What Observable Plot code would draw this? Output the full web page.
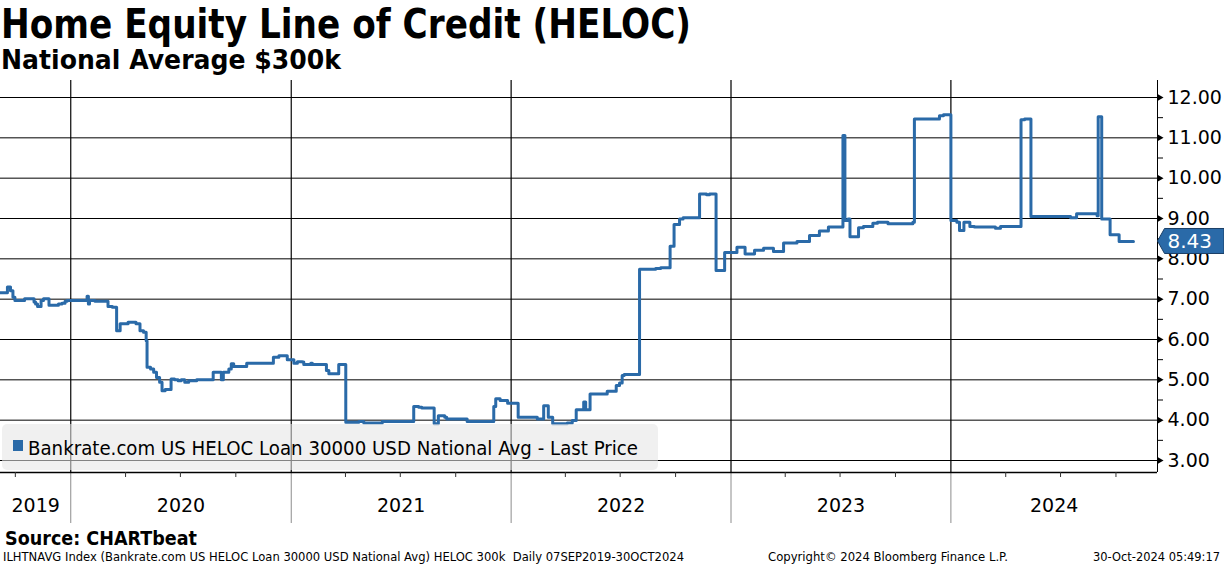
<!DOCTYPE html>
<html><head><meta charset="utf-8">
<script src="https://cdn.jsdelivr.net/npm/d3@7"></script>
<script src="https://cdn.jsdelivr.net/npm/@observablehq/plot@0.6"></script>
<style>
body{margin:0;background:#fff;}
#wrap{position:relative;width:1224px;height:566px;overflow:hidden;font-family:"DejaVu Sans",sans-serif;color:#000;background:#fff;}
.t{position:absolute;white-space:nowrap;line-height:1;transform-origin:0 50%;}
#chart{position:absolute;left:0;top:78px;}
#legend{position:absolute;left:2px;top:424px;width:656px;height:46px;background:rgba(228,228,228,0.57);border-radius:5px;}
#legsq{position:absolute;left:11px;top:16px;width:10px;height:11px;}
</style></head><body>
<div id="wrap">
  <div id="title" class="t" style="left:1px;top:4px;font-size:40px;font-weight:bold"></div>
  <div id="subtitle" class="t" style="left:1px;top:46px;font-size:27px;font-weight:bold"></div>
  <div id="chart"></div>
  <div id="legend"><div id="legsq"></div><div id="legtext" class="t" style="left:26px;top:14px;font-size:20px"></div></div>
  <div id="source" class="t" style="left:5px;top:528px;font-size:20px;font-weight:bold"></div>
  <div id="foot1" class="t" style="left:3px;top:550px;font-size:13px"></div>
  <div id="foot2" class="t" style="left:768px;top:550px;font-size:13px"></div>
  <div id="foot3" class="t" style="left:1093px;top:550px;font-size:13px"></div>
</div>
<script>
// ---- text ----
const titleText = "Home Equity Line of Credit (HELOC)";
const subtitleText = "National Average $300k";
const legendText = "Bankrate.com US HELOC Loan 30000 USD National Avg - Last Price";
const sourceText = "Source: CHARTbeat";
const footLeft = "ILHTNAVG Index (Bankrate.com US HELOC Loan 30000 USD National Avg) HELOC 300k\u00a0\u00a0Daily 07SEP2019-30OCT2024";
const footMid = "Copyright\u00a9 2024 Bloomberg Finance L.P.";
const footRight = "30-Oct-2024 05:49:17";

// ---- data (decimal years, rate %) ----
const dates = [2019.681,2019.712,2019.726,2019.737,2019.746,2019.790,2019.833,2019.840,2019.849,2019.865,
2019.876,2019.901,2019.944,2019.960,2019.974,2019.983,2020.074,2020.080,2020.085,2020.110,
2020.169,2020.189,2020.208,2020.224,2020.260,2020.296,2020.314,2020.330,2020.342,2020.346,
2020.362,2020.376,2020.389,2020.403,2020.414,2020.428,2020.455,2020.471,2020.487,2020.501,
2020.517,2020.535,2020.571,2020.646,2020.683,2020.692,2020.717,2020.728,2020.739,2020.798,
2020.919,2020.944,2020.982,2021.012,2021.028,2021.051,2021.057,2021.089,2021.096,2021.160,
2021.171,2021.216,2021.248,2021.307,2021.330,2021.414,2021.557,2021.580,2021.594,2021.650,
2021.669,2021.698,2021.707,2021.800,2021.921,2021.930,2021.950,2021.984,2022.032,2022.119,
2022.148,2022.169,2022.189,2022.255,2022.278,2022.296,2022.330,2022.339,2022.359,2022.437,
2022.478,2022.493,2022.505,2022.514,2022.584,2022.657,2022.680,2022.723,2022.741,2022.766,
2022.782,2022.857,2022.889,2022.902,2022.932,2022.971,2023.027,2023.064,2023.107,2023.148,
2023.193,2023.239,2023.300,2023.357,2023.402,2023.443,2023.509,2023.518,2023.532,2023.541,
2023.580,2023.602,2023.645,2023.666,2023.714,2023.827,2023.834,2023.948,2023.966,2024.000,
2024.027,2024.039,2024.059,2024.086,2024.107,2024.202,2024.225,2024.318,2024.334,2024.363,
2024.543,2024.570,2024.663,2024.668,2024.684,2024.722,2024.763,2024.828];
const rates = [7.16,7.30,7.21,7.05,6.97,7.01,6.93,6.88,6.82,6.97,
7.01,6.85,6.88,6.90,6.95,6.97,7.07,6.88,6.97,6.95,
6.82,6.80,6.22,6.39,6.43,6.39,6.22,6.18,5.97,5.31,
5.27,5.19,5.06,4.94,4.73,4.76,5.02,5.00,4.98,5.00,
4.94,4.98,5.00,5.19,5.00,5.19,5.27,5.40,5.33,5.41,
5.56,5.60,5.50,5.41,5.45,5.44,5.38,5.41,5.38,5.23,
5.15,5.38,3.95,3.97,3.93,3.97,4.34,4.32,4.30,3.91,
4.11,4.07,4.03,3.97,4.34,4.53,4.49,4.42,4.07,4.03,
4.36,4.07,3.91,3.93,3.99,4.26,4.45,4.26,4.65,4.72,
4.86,4.92,5.11,5.13,7.74,7.76,7.78,8.31,8.85,8.99,
9.02,9.61,9.59,9.61,7.71,8.16,8.29,8.12,8.21,8.26,
8.18,8.39,8.43,8.58,8.69,8.79,11.06,8.95,8.99,8.55,
8.77,8.80,8.88,8.91,8.87,8.91,11.47,11.55,11.57,8.95,
8.91,8.70,8.91,8.80,8.79,8.76,8.80,11.45,11.47,9.05,
9.02,9.12,9.07,11.52,8.99,8.60,8.43,8.43];
const lastPrice = 8.43;
const yTicks = [3,4,5,6,7,8,9,10,11,12];
const yMinor = [3.5,4.5,5.5,6.5,7.5,8.5,9.5,10.5,11.5];
const gridYears = [2020,2021,2022,2023,2024];
const yearLabels = [2019,2020,2021,2022,2023,2024];
const xStart = 2019.6805, xEnd = 2024.937;
const yMin = 2.7025, yMax = 12.4215;

const BLUE = "#2a6aa8";

function toDate(t){const y=Math.floor(t);const a=Date.UTC(y,0,1),b=Date.UTC(y+1,0,1);return new Date(a+(t-y)*(b-a));}

const xDom = [toDate(xStart), toDate(xEnd)];
const data = dates.map((t,i)=>({date:toDate(t), rate:rates[i]}));
const yearStarts = gridYears.map(y=>new Date(Date.UTC(y,0,1)));
const quarters = d3.utcMonth.every(3).range(xDom[0], xDom[1]).filter(d=>d.getUTCMonth()!==0);
const yearLabelData = yearLabels.map(y=>{
  const a=Math.max(Date.UTC(y,0,1), +xDom[0]), b=Math.min(Date.UTC(y+1,0,1), +xDom[1]);
  return {x:new Date((a+b)/2), label:String(y)};
});

const W = 1224, H = 449;
const chart = Plot.plot({
  width: W, height: H, marginLeft: 0, marginRight: 67, marginTop: 2, marginBottom: 55,
  style: {fontFamily: "DejaVu Sans", fontSize: "19px", background: "transparent", color: "#000", overflow: "visible"},
  x: {type: "utc", domain: xDom},
  y: {domain: [yMin, yMax]},
  marks: [
    Plot.ruleX(yearStarts, {stroke: "#8c8c8c", strokeWidth: 1, insetBottom: -51}),
    Plot.ruleX(yearStarts, {stroke: "#000", strokeWidth: 1}),
    Plot.ruleY(yTicks, {stroke: "#000", strokeWidth: 1}),
    Plot.ruleY([yMin], {stroke: "#000", strokeWidth: 1.3}),
    Plot.ruleX([xDom[1]], {stroke: "#000", strokeWidth: 1}),
    Plot.axisX({ticks: quarters, tickSize: 5, tickFormat: () => "", label: null, stroke: "#333"}),
    Plot.axisY({anchor: "right", ticks: yMinor, tickSize: 5, tickFormat: () => "", label: null}),
    Plot.axisY({anchor: "right", ticks: yTicks, tickSize: 0, tickPadding: 10, tickFormat: d3.format(".2f"), label: null, fontSize: 19, fill: "#000"}),
    Plot.dot(yTicks, {y: d => d, frameAnchor: "right", symbol: "triangle", rotate: 90, r: 2.6, fill: "#000", dx: 2}),
    Plot.line(data, {x: "date", y: "rate", curve: "step-after", stroke: BLUE, strokeWidth: 3, strokeLinejoin: "round"}),
    Plot.text(yearLabelData, {x: "x", text: "label", frameAnchor: "bottom", dy: 39, fontSize: 19, fill: "#000"})
  ]
});
document.getElementById("chart").appendChild(chart);

// last price tag
const ys = chart.scale("y"), xs = chart.scale("x");
const ty = ys.apply(lastPrice), tx = xs.range[1] + 0.5;
const g = d3.select(chart).append("g").attr("text-anchor", "start");
g.append("path")
  .attr("d", `M${tx},${ty} L${tx+7},${ty-12.5} L${W},${ty-12.5} L${W},${ty+12.5} L${tx+7},${ty+12.5} Z`)
  .attr("fill", BLUE).attr("stroke", "#1b3f66").attr("stroke-width", 1);
g.append("text").attr("x", tx + 10).attr("y", ty).attr("dy", "0.36em")
  .attr("text-anchor", "start")
  .attr("fill", "#fff").attr("font-size", 20).attr("font-family", "DejaVu Sans")
  .text(d3.format(".2f")(lastPrice));

// texts
function setFit(id, txt, w){
  const el = document.getElementById(id);
  el.textContent = txt;
  const r = el.getBoundingClientRect().width;
  el.style.transform = `scaleX(${w / r})`;
}
document.getElementById("legsq").style.background = BLUE;
setFit("title", titleText, 690);
setFit("subtitle", subtitleText, 340);
setFit("legtext", legendText, 610);
setFit("source", sourceText, 192);
setFit("foot1", footLeft, 681);
setFit("foot2", footMid, 240);
setFit("foot3", footRight, 127);
</script>
</body></html>
